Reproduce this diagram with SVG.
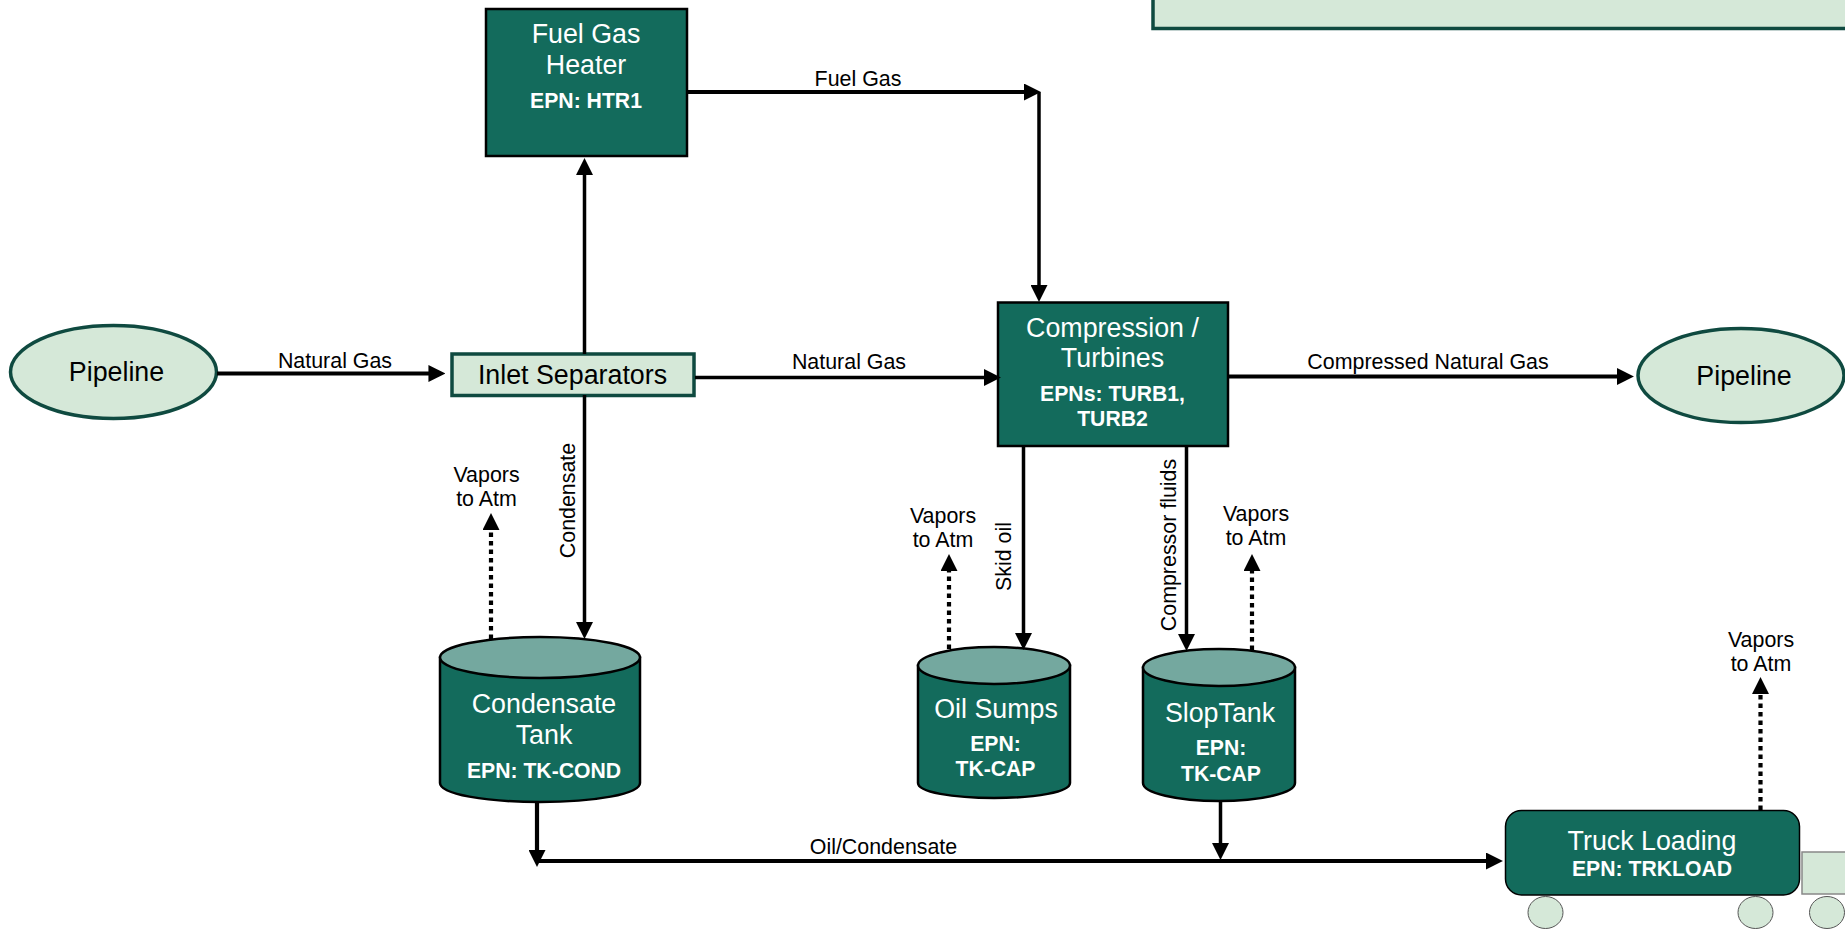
<svg xmlns="http://www.w3.org/2000/svg" width="1845" height="929" viewBox="0 0 1845 929">
<style>
text{font-family:"Liberation Sans",Arial,sans-serif}
.t{font-size:26.800px;fill:#fff;text-anchor:middle}
.b{font-size:21.200px;font-weight:bold;fill:#fff;text-anchor:middle}
.d{font-size:26.800px;fill:#000;text-anchor:middle}
.l{font-size:21.400px;fill:#000;text-anchor:middle}
.box{fill:#136b5c;stroke:#000;stroke-width:2.500}
.lt{fill:#d5e8d8;stroke:#0f4a40;stroke-width:3.500}
.lid{fill:#74a89f;stroke:#000;stroke-width:2.500}
.c{fill:none;stroke:#000;stroke-width:3.500;marker-end:url(#ah)}
.h{fill:none;stroke:#000;stroke-width:4.200;marker-end:url(#ah)}
.n{fill:none;stroke:#000;stroke-width:3.500}
.v{fill:none;stroke:#000;stroke-width:4.200;stroke-dasharray:4.500 4;marker-end:url(#ah)}
.w{fill:#d5e8d8;stroke:#555;stroke-width:1}
</style>
<defs>
<marker id="ah" markerUnits="userSpaceOnUse" markerWidth="17" markerHeight="17" refX="1" refY="8" orient="auto" viewBox="0 0 16 16"><path d="M0 0L16 8L0 16Z" fill="#000"/></marker>
</defs>
<rect width="1845" height="929" fill="#fff"/>
<g id="top-box"><rect class="lt" x="1153" y="-20" width="720" height="48.500"/></g>
<g id="fuel-gas-heater"><rect class="box" x="486" y="9" width="201" height="147"/><text class="t" x="586" y="43">Fuel Gas</text><text class="t" x="586" y="74">Heater</text><text class="b" x="586" y="108">EPN: HTR1</text></g>
<g id="pipeline-in"><ellipse class="lt" cx="113.500" cy="372" rx="103" ry="46.500"/><text class="d" x="116.500" y="381">Pipeline</text></g>
<g id="inlet-separators"><rect class="lt" x="452" y="354" width="242" height="41.500"/><text class="d" x="572.500" y="384">Inlet Separators</text></g>
<g id="compression"><rect class="box" x="998" y="302.500" width="230" height="143.500"/><text class="t" x="1112.500" y="337">Compression /</text><text class="t" x="1112.500" y="367">Turbines</text><text class="b" x="1112.500" y="400.500">EPNs: TURB1,</text><text class="b" x="1112.500" y="426">TURB2</text></g>
<g id="pipeline-out"><ellipse class="lt" cx="1741" cy="375.500" rx="103" ry="47"/><text class="d" x="1744" y="385">Pipeline</text></g>
<g id="condensate-tank"><path class="box" d="M440 657.500V783C440 794 485 802 540 802S640 794 640 783V657.500Z"/><ellipse class="lid" cx="540" cy="657.500" rx="100" ry="20.500"/><text class="t" x="544" y="713">Condensate</text><text class="t" x="544" y="744">Tank</text><text class="b" x="544" y="778">EPN: TK-COND</text></g>
<g id="oil-sumps"><path class="box" d="M918 665.500V783C918 792 952 798 994 798S1070 792 1070 783V665.500Z"/><ellipse class="lid" cx="994" cy="665.500" rx="76" ry="18.500"/><text class="t" x="996" y="718">Oil Sumps</text><text class="b" x="995.500" y="751">EPN:</text><text class="b" x="995.500" y="776">TK-CAP</text></g>
<g id="slop-tank"><path class="box" d="M1143 667.500V783C1143 793 1177 801 1219 801S1295 793 1295 783V667.500Z"/><ellipse class="lid" cx="1219" cy="667.500" rx="76" ry="18.500"/><text class="t" x="1220" y="722">SlopTank</text><text class="b" x="1221" y="755">EPN:</text><text class="b" x="1221" y="780.500">TK-CAP</text></g>
<g id="truck-loading"><rect x="1802" y="852" width="60" height="42" fill="#d5e8d8" stroke="#888" stroke-width="1.500"/><rect class="box" style="stroke-width:1.500" x="1505.500" y="810.500" width="294" height="84.500" rx="16"/><ellipse class="w" cx="1545.500" cy="912.500" rx="17.500" ry="16"/><ellipse class="w" cx="1755.500" cy="912.500" rx="17.500" ry="16"/><ellipse class="w" cx="1827" cy="912.500" rx="17.500" ry="16"/><text class="t" x="1652" y="850">Truck Loading</text><text class="b" x="1652" y="876">EPN: TRKLOAD</text></g>
<g id="connectors">
<path class="h" d="M217 373.500H429.500"/>
<path class="c" d="M584.500 354V174"/>
<path class="c" d="M584.500 395V623"/>
<path class="h" d="M687 92H1025"/>
<path class="c" d="M1039 92V286"/>
<path class="c" d="M695 377.500H985"/>
<path class="h" d="M1228 376.500H1618"/>
<path class="c" d="M1023.500 446V634"/>
<path class="c" d="M1186.500 446V635"/>
<path class="h" d="M537 802V851"/>
<path class="c" d="M1220.500 801V844"/>
<path class="h" d="M537 861H1487"/>
<path class="v" d="M491 639V529"/>
<path class="v" d="M949 649V570"/>
<path class="v" d="M1252 650V570"/>
<path class="v" d="M1760.500 810V693"/>
<text class="l" x="335" y="367.500">Natural Gas</text>
<text class="l" x="858" y="86">Fuel Gas</text>
<text class="l" x="849" y="368.500">Natural Gas</text>
<text class="l" x="1428" y="368.500">Compressed Natural Gas</text>
<text class="l" x="883.500" y="854">Oil/Condensate</text>
<text class="l" transform="translate(574.500 500.500) rotate(-90)">Condensate</text>
<text class="l" transform="translate(1011 556.500) rotate(-90)">Skid oil</text>
<text class="l" transform="translate(1175.500 545) rotate(-90)">Compressor fluids</text>
<text class="l" x="486.500" y="482">Vapors</text><text class="l" x="486.500" y="506">to Atm</text>
<text class="l" x="943" y="523">Vapors</text><text class="l" x="943" y="547">to Atm</text>
<text class="l" x="1256" y="521">Vapors</text><text class="l" x="1256" y="545">to Atm</text>
<text class="l" x="1761" y="647">Vapors</text><text class="l" x="1761" y="671">to Atm</text>
</g>
</svg>
